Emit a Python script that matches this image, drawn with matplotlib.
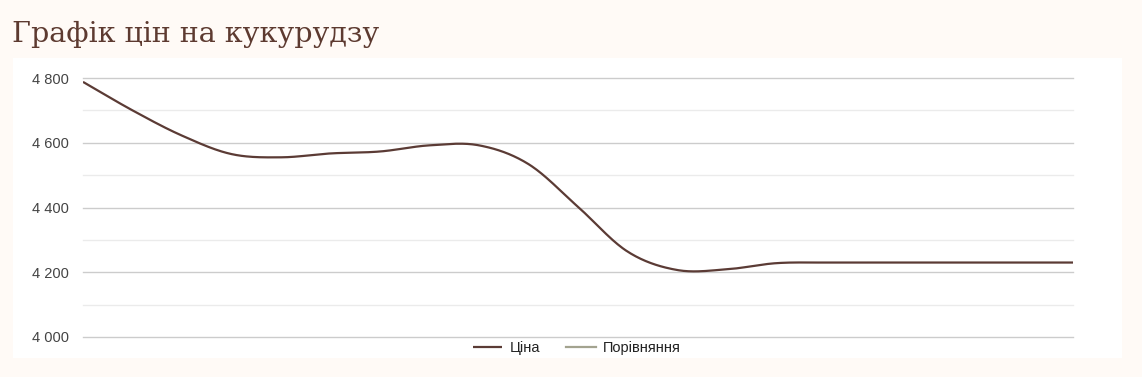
import numpy as np
import matplotlib
matplotlib.use("Agg")
import matplotlib.pyplot as plt
from matplotlib.ticker import MultipleLocator, FuncFormatter

# дані
days = list(range(21))
price = [4788, 4700, 4622, 4565, 4555, 4567, 4573, 4592, 4592, 4534, 4402,
         4264, 4207, 4209, 4228, 4230, 4230, 4230, 4230, 4230, 4230]
compare = []  # порівняння - порожня серія
title = "Графік цін на кукурудзу"
y_ticks = [4000, 4200, 4400, 4600, 4800]

BG = "#fffaf6"
LINE = "#5b3b35"
CMP = "#a3a38f"
TXT = "#444444"


# згладжування кривої (Catmull-Rom)
def smooth(x, y, n=30):
    x = np.asarray(x, float)
    y = np.asarray(y, float)
    m = np.zeros_like(y)
    m[1:-1] = (y[2:] - y[:-2]) / 2
    m[0] = y[1] - y[0]
    m[-1] = y[-1] - y[-2]
    xs, ys = [], []
    for i in range(len(x) - 1):
        t = np.linspace(0, 1, n, endpoint=False)
        h00 = 2*t**3 - 3*t**2 + 1
        h10 = t**3 - 2*t**2 + t
        h01 = -2*t**3 + 3*t**2
        h11 = t**3 - t**2
        xs.append(x[i] + t * (x[i+1] - x[i]))
        ys.append(h00*y[i] + h10*m[i] + h01*y[i+1] + h11*m[i+1])
    xs.append([x[-1]])
    ys.append([y[-1]])
    return np.concatenate(xs), np.concatenate(ys)


fig = plt.figure(figsize=(11.42, 3.77), dpi=100, facecolor=BG)
W, H = 1142, 377

# біла панель
panel = fig.add_axes([13 / W, 1 - 358 / H, (1122 - 13) / W, (358 - 58) / H], zorder=-1)
panel.axis("off")
panel.add_patch(plt.Rectangle((0, 0), 1, 1, transform=panel.transAxes,
                              facecolor="white", edgecolor="none"))

fig.text(12 / W, 1 - 34 / H, title, fontsize=20.5, color="#5d3a30",
         family=["DejaVu Serif"], va="center", ha="left")

ax = fig.add_axes([83 / W, 1 - 337 / H, (1073 - 83) / W, (337 - 78) / H])
ax.set_facecolor("none")
xs, ys = smooth(days, price)
ax.plot(xs, ys, color=LINE, lw=1.6, label="Ціна", solid_capstyle="butt")
ax.plot(days[:len(compare)], compare, color=CMP, lw=1.6, label="Порівняння")

ax.set_xlim(days[0], days[-1])
ax.set_ylim(y_ticks[0], y_ticks[-1])
ax.set_yticks(y_ticks)
ax.yaxis.set_minor_locator(MultipleLocator(100))
ax.yaxis.set_major_formatter(FuncFormatter(lambda v, p: f"{int(v):,}".replace(",", " ")))
ax.grid(which="major", axis="y", color="#cccccc", lw=1)
ax.grid(which="minor", axis="y", color="#ebebeb", lw=1)
for tk in ax.yaxis.get_major_ticks() + ax.yaxis.get_minor_ticks():
    tk.gridline.set_clip_on(False)
ax.set_axisbelow(True)
ax.set_xticks([])
for s in ax.spines.values():
    s.set_visible(False)
ax.tick_params(axis="y", which="both", length=0, pad=10, labelsize=10.5,
               labelcolor=TXT)
for lab in ax.get_yticklabels():
    lab.set_family("Liberation Sans")

leg = fig.legend(loc="center", bbox_to_anchor=(577 / W, 1 - 348 / H), ncol=2,
                 frameon=False, prop={"family": "Liberation Sans", "size": 10.5},
                 handlelength=2.0, columnspacing=1.8, handletextpad=0.5)
for t in leg.get_texts():
    t.set_color("#222222")

fig.savefig("out.png", dpi=100, facecolor=BG)
